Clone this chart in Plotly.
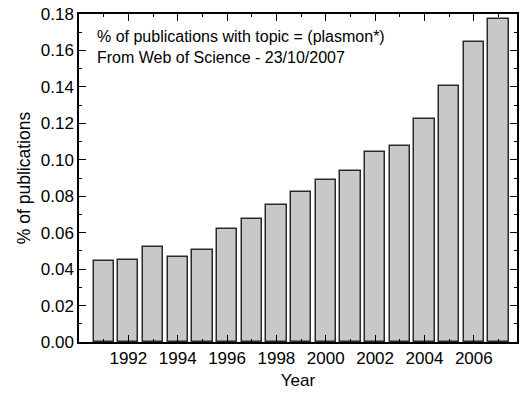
import plotly.graph_objects as go

# Share of publications matching topic "plasmon*" per year
years = list(range(1991, 2008))
share = [0.0442, 0.0449, 0.0519, 0.0468, 0.0503, 0.0622, 0.0673, 0.0754, 0.0822,
         0.0888, 0.0937, 0.1042, 0.1073, 0.1225, 0.1403, 0.1647, 0.1775]

x_labels = [1992, 1994, 1996, 1998, 2000, 2002, 2004, 2006]
x_minor = [1991, 1993, 1995, 1997, 1999, 2001, 2003, 2005, 2007]

font_family = "Liberation Sans, Arial, Helvetica, sans-serif"

fig = go.Figure(
    go.Bar(
        x=years,
        y=share,
        width=0.82,
        marker=dict(color="#c8c8c8", line=dict(color="#2a2a2a", width=1.5)),
    )
)

axis_common = dict(
    showline=True,
    linecolor="black",
    linewidth=1.5,
    mirror="ticks",
    ticks="inside",
    tickcolor="black",
    tickwidth=1,
    ticklen=7,
    showgrid=False,
    zeroline=False,
    layer="above traces",
    tickfont=dict(size=17, color="black", family=font_family),
)

fig.update_xaxes(
    **axis_common,
    range=[1990, 2007.75],
    tickmode="array",
    tickvals=x_labels,
    ticktext=[str(v) for v in x_labels],
    minor=dict(tickmode="array", tickvals=x_minor, ticklen=3.5, ticks="inside",
               tickcolor="black", tickwidth=1),
    title=dict(text="Year", font=dict(size=17, color="black", family=font_family),
               standoff=7),
)

fig.update_yaxes(
    **axis_common,
    range=[0, 0.18],
    dtick=0.02,
    tick0=0,
    tickformat=".2f",
    minor=dict(dtick=0.01, ticklen=3.5, ticks="inside", tickcolor="black", tickwidth=1),
    title=dict(text="% of publications", font=dict(size=17.5, color="black", family=font_family),
               standoff=6),
)

fig.add_annotation(
    xref="paper", yref="paper",
    x=0.036, y=0.962,
    xanchor="left", yanchor="top",
    align="left",
    showarrow=False,
    text="% of publications with topic = (plasmon*)<br>From Web of Science - 23/10/2007",
    font=dict(size=16, color="black", family=font_family),
)

fig.update_layout(
    width=520,
    height=393,
    margin=dict(l=79, r=1, t=14, b=51),
    plot_bgcolor="white",
    paper_bgcolor="white",
    showlegend=False,
    bargap=0,
)

fig.write_html("out.html")
